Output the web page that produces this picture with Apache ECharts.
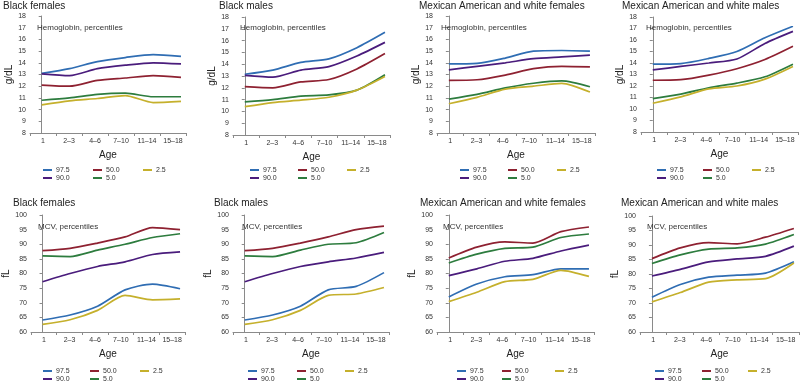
<!DOCTYPE html>
<html><head><meta charset="utf-8">
<script src="https://cdn.jsdelivr.net/npm/echarts@6/dist/echarts.min.js"></script>
<style>html,body{margin:0;padding:0;background:#fff}#c{width:800px;height:383px}</style>
</head><body><div id="c"></div>
<script>
// ---------- data ----------
const ages = ['1', '2–3', '4–6', '7–10', '11–14', '15–18'];
const seriesNames = ['97.5', '90.0', '50.0', '5.0', '2.5'];
const hbTicks = [8, 18, 1];
const mcvTicks = [60, 100, 5];

// Hemoglobin, Black females
const hbBF_975 = [13.1, 13.5, 14.1, 14.45, 14.7, 14.55];
const hbBF_900 = [13.05, 12.9, 13.5, 13.8, 14.0, 13.9];
const hbBF_500 = [12.1, 12.0, 12.5, 12.7, 12.9, 12.75];
const hbBF_050 = [10.8, 11.0, 11.3, 11.4, 11.1, 11.1];
const hbBF_025 = [10.4, 10.75, 10.95, 11.2, 10.6, 10.7];
// Hemoglobin, Black males
const hbBM_975 = [13.15, 13.5, 14.15, 14.45, 15.4, 16.7];
const hbBM_900 = [13.05, 12.9, 13.5, 13.8, 14.7, 15.85];
const hbBM_500 = [12.1, 12.0, 12.5, 12.7, 13.6, 14.9];
const hbBM_050 = [10.8, 11.0, 11.3, 11.4, 11.8, 13.1];
const hbBM_025 = [10.4, 10.75, 10.95, 11.2, 11.8, 12.95];
// Hemoglobin, Mexican American and white females
const hbMF_975 = [13.9, 13.95, 14.4, 15.0, 15.05, 15.0];
const hbMF_900 = [13.4, 13.7, 14.0, 14.35, 14.5, 14.65];
const hbMF_500 = [12.5, 12.55, 12.95, 13.5, 13.7, 13.65];
const hbMF_050 = [10.9, 11.3, 11.85, 12.25, 12.45, 11.95];
const hbMF_025 = [10.5, 11.05, 11.75, 12.0, 12.25, 11.5];
// Hemoglobin, Mexican American and white males
const hbMM_975 = [13.9, 13.95, 14.4, 15.0, 16.2, 17.2];
const hbMM_900 = [13.4, 13.7, 14.0, 14.35, 15.7, 16.75];
const hbMM_500 = [12.5, 12.55, 12.95, 13.5, 14.3, 15.45];
const hbMM_050 = [10.9, 11.3, 11.85, 12.25, 12.8, 13.9];
const hbMM_025 = [10.5, 11.05, 11.75, 12.0, 12.6, 13.7];

// MCV, Black females
const mcvBF_975 = [64.1, 65.8, 68.8, 74.4, 76.4, 74.8];
const mcvBF_900 = [77.2, 80.0, 82.4, 84.0, 86.5, 87.4];
const mcvBF_500 = [87.8, 88.6, 90.4, 92.5, 95.7, 95.0];
const mcvBF_050 = [86.0, 85.8, 88.0, 90.0, 92.3, 93.6];
const mcvBF_025 = [62.6, 64.2, 67.4, 72.5, 71.0, 71.3];
// MCV, Black males
const mcvBM_975 = [64.1, 65.8, 68.8, 74.4, 75.6, 80.3];
const mcvBM_900 = [77.2, 80.0, 82.4, 84.0, 85.3, 87.2];
const mcvBM_500 = [87.8, 88.6, 90.4, 92.5, 95.0, 96.2];
const mcvBM_050 = [86.0, 85.8, 88.0, 90.0, 90.5, 94.0];
const mcvBM_025 = [62.6, 64.2, 67.4, 72.5, 73.0, 75.2];
// MCV, Mexican American and white females
const mcvMF_975 = [72.0, 76.4, 78.9, 79.6, 81.6, 81.6];
const mcvMF_900 = [79.3, 81.6, 84.2, 85.2, 87.7, 89.7];
const mcvMF_500 = [85.3, 89.0, 90.8, 90.4, 94.3, 95.9];
const mcvMF_050 = [83.6, 86.6, 88.6, 89.0, 92.3, 93.5];
const mcvMF_025 = [70.4, 73.6, 77.2, 78.0, 81.1, 79.0];
// MCV, Mexican American and white males
const mcvMM_975 = [72.0, 76.4, 78.9, 79.6, 80.3, 84.2];
const mcvMM_900 = [79.3, 81.6, 84.2, 85.2, 86.1, 89.6];
const mcvMM_500 = [85.3, 89.0, 90.8, 90.4, 92.7, 95.7];
const mcvMM_050 = [83.6, 86.6, 88.6, 89.0, 90.3, 93.6];
const mcvMM_025 = [70.4, 73.6, 77.2, 78.0, 78.4, 83.8];

const panelTitles = ['Black females', 'Black males', 'Mexican American and white females', 'Mexican American and white males',
  'Black females', 'Black males', 'Mexican American and white females', 'Mexican American and white males'];
const panelSubtitles = ['Hemoglobin, percentiles', 'Hemoglobin, percentiles', 'Hemoglobin, percentiles', 'Hemoglobin, percentiles',
  'MCV, percentiles', 'MCV, percentiles', 'MCV, percentiles', 'MCV, percentiles'];
const panelUnits = ['g/dL', 'g/dL', 'g/dL', 'g/dL', 'fL', 'fL', 'fL', 'fL'];
const panelData = [
  [hbBF_975, hbBF_900, hbBF_500, hbBF_050, hbBF_025],
  [hbBM_975, hbBM_900, hbBM_500, hbBM_050, hbBM_025],
  [hbMF_975, hbMF_900, hbMF_500, hbMF_050, hbMF_025],
  [hbMM_975, hbMM_900, hbMM_500, hbMM_050, hbMM_025],
  [mcvBF_975, mcvBF_900, mcvBF_500, mcvBF_050, mcvBF_025],
  [mcvBM_975, mcvBM_900, mcvBM_500, mcvBM_050, mcvBM_025],
  [mcvMF_975, mcvMF_900, mcvMF_500, mcvMF_050, mcvMF_025],
  [mcvMM_975, mcvMM_900, mcvMM_500, mcvMM_050, mcvMM_025]
];
const panelTicks = [hbTicks, hbTicks, hbTicks, hbTicks, mcvTicks, mcvTicks, mcvTicks, mcvTicks];

// ---------- layout & style ----------
const colors = ['#2f6db3', '#4a1c7c', '#8e2131', '#2d7c3e', '#c5b02c'];
const FONT = '"Liberation Sans", Arial, sans-serif';
// [axisLeft, axisRight, plotTop, plotBottom, titleX, titleY, subX, subY, legendCols(x3), legendRow1Y]
const layout = [
  [30, 186, 16, 133, 3, 7, 37, 28, [43, 93, 143], 170],
  [233, 390, 17, 135, 219, 7, 240, 28, [250, 298, 347], 170],
  [437, 595, 16, 133, 419, 7, 441, 28, [460, 508, 557], 170],
  [641, 798, 17, 132, 622, 7, 646, 28, [657, 703, 752], 170],
  [31, 185, 215, 332, 13, 204, 38, 227, [43, 90, 140], 371],
  [233, 389, 215, 332, 214, 204, 242, 227, [248, 297, 345], 371],
  [437, 594, 215, 332, 420, 204, 443, 227, [457, 502, 555], 371],
  [640, 799, 216, 332, 621, 204, 647, 227, [655, 702, 748], 371]
];
const W = 800, H = 383;

const option = {
  animation: false,
  backgroundColor: '#fff',
  textStyle: { fontFamily: FONT },
  title: [], grid: [], xAxis: [], yAxis: [], series: [], legend: []
};

const axisColor = '#8a8a8a';
layout.forEach((L, p) => {
  const [ax0, ax1, top, bot, tx, ty, sx, sy, lcols, ly] = L;
  option.title.push({ text: panelTitles[p], left: tx, top: ty - 6, padding: 0,
    textStyle: { fontSize: 10, fontWeight: 'normal', color: '#222', fontFamily: FONT } });
  option.title.push({ text: panelSubtitles[p], left: sx, top: sy - 4.5, padding: 0,
    textStyle: { fontSize: 8, fontWeight: 'normal', color: '#333', fontFamily: FONT } });
  option.grid.push({ left: ax0, top: top, width: ax1 - ax0, height: bot - top, containLabel: false });
  const tk = panelTicks[p];
  option.xAxis.push({
    type: 'category', gridIndex: p, data: ages, boundaryGap: true,
    name: 'Age', nameLocation: 'middle', nameGap: 17,
    nameTextStyle: { fontSize: 10, color: '#222', fontFamily: FONT },
    axisLine: { lineStyle: { color: axisColor, width: 1 } },
    axisTick: { show: true, length: 3, lineStyle: { color: axisColor } },
    axisLabel: { fontSize: 7, color: '#333', margin: 5, fontFamily: FONT, interval: 0 },
    splitLine: { show: false }
  });
  option.xAxis.push({
    type: 'value', gridIndex: p, min: -0.42, max: 5.18, show: false, splitLine: { show: false }
  });
  option.yAxis.push({
    type: 'value', gridIndex: p, min: tk[0], max: tk[1], interval: tk[2],
    name: panelUnits[p], nameLocation: 'middle', nameGap: 15, nameRotate: 90,
    nameTextStyle: { fontSize: 10, color: '#222', fontFamily: FONT },
    axisLine: { show: true, lineStyle: { color: axisColor, width: 1 } },
    axisTick: { show: true, length: 3, lineStyle: { color: axisColor } },
    axisLabel: { fontSize: 7, color: '#333', margin: 4, fontFamily: FONT },
    splitLine: { show: false }
  });
  panelData[p].forEach((vals, k) => {
    option.series.push({
      type: 'line', name: seriesNames[k], xAxisIndex: 2 * p + 1, yAxisIndex: p,
      data: vals.map((v, i) => [i, v]),
      smooth: 0.25, showSymbol: false, symbol: 'none',
      lineStyle: { color: colors[k], width: 1.7 },
      itemStyle: { color: colors[k] }
    });
  });
  const cols = [['97.5', '90.0'], ['50.0', '5.0'], ['2.5']];
  cols.forEach((names, c) => {
    option.legend.push({
      data: names, orient: 'vertical', left: lcols[c], top: ly - 4,
      padding: 0, itemGap: 0, itemWidth: 9, itemHeight: 2, icon: 'rect',
      selectedMode: false,
      textStyle: { fontSize: 7, color: '#333', fontFamily: FONT, lineHeight: 8, padding: [0, 0, 0, -1] }
    });
  });
});

const chart = echarts.init(document.getElementById('c'), null, { renderer: 'canvas', width: W, height: H });
chart.setOption(option);
</script>
</body></html>
